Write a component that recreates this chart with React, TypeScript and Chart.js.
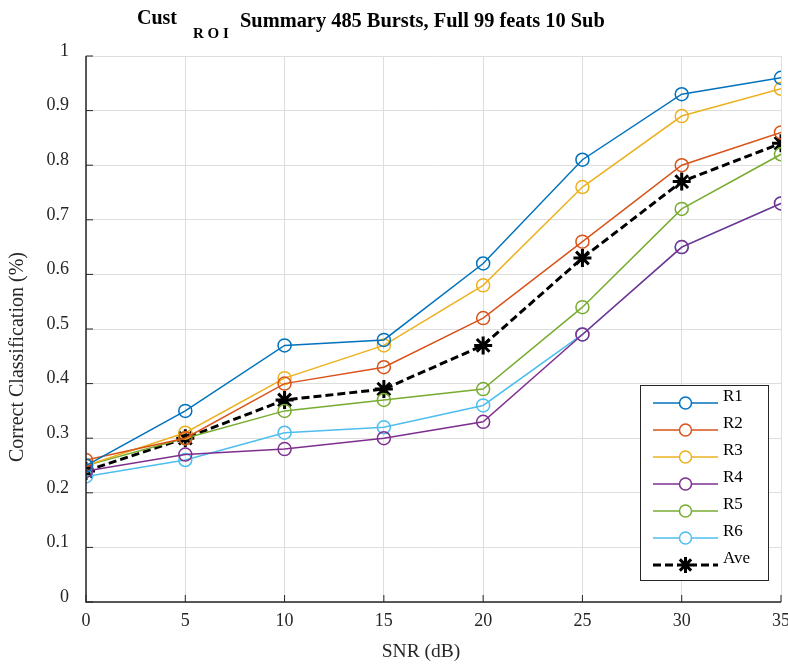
import React, { useEffect, useRef } from "react";
import { Chart, registerables } from "chart.js";

Chart.register(...registerables);

const snr = [0, 5, 10, 15, 20, 25, 30, 35];
const r1 = [0.25, 0.35, 0.47, 0.48, 0.62, 0.81, 0.93, 0.96];
const r2 = [0.26, 0.30, 0.40, 0.43, 0.52, 0.66, 0.80, 0.86];
const r3 = [0.25, 0.31, 0.41, 0.47, 0.58, 0.76, 0.89, 0.94];
const r4 = [0.24, 0.27, 0.28, 0.30, 0.33, 0.49, 0.65, 0.73];
const r5 = [0.25, 0.30, 0.35, 0.37, 0.39, 0.54, 0.72, 0.82];
const r6 = [0.23, 0.26, 0.31, 0.32, 0.36, 0.49, 0.65, 0.73];
const ave = [0.24, 0.30, 0.37, 0.39, 0.47, 0.63, 0.77, 0.84];
const seriesNames = ["R1", "R2", "R3", "R4", "R5", "R6", "Ave"];
const seriesColors = ["#0072BD", "#D95319", "#EDB120", "#7E2F8E", "#77AC30", "#4DBEEE", "#000000"];
const yTicks = [0, 0.1, 0.2, 0.3, 0.4, 0.5, 0.6, 0.7, 0.8, 0.9, 1];
const xLabel = "SNR (dB)";
const yLabel = "Correct Classification (%)";

const FONT = "'Liberation Serif', 'Times New Roman', serif";

const titlePlugin = {
  id: "matlabTitle",
  afterDraw(chart: any) {
    const ctx = chart.ctx;
    ctx.save();
    ctx.fillStyle = "#000";
    ctx.textBaseline = "alphabetic";
    ctx.textAlign = "left";
    ctx.font = `bold 20px ${FONT}`;
    ctx.fillText("Cust", 137, 24);
    ctx.font = `bold 15px ${FONT}`;
    ctx.fillText("R O I", 193, 38);
    ctx.font = `bold 20.4px ${FONT}`;
    ctx.fillText("Summary 485 Bursts, Full 99 feats 10 Sub", 240, 27);
    ctx.fillStyle = "#262626";
    ctx.font = `19.5px ${FONT}`;
    ctx.textAlign = "center";
    ctx.textBaseline = "middle";
    ctx.fillText(xLabel, 421, 652);
    ctx.save();
    ctx.translate(18, 357);
    ctx.rotate(-Math.PI / 2);
    ctx.font = `20px ${FONT}`;
    ctx.fillText(yLabel, 0, 0);
    ctx.restore();
    ctx.restore();
  },
};

const axesPlugin = {
  id: "matlabAxes",
  afterDatasetsDraw(chart: any) {
    const ctx = chart.ctx;
    const { left, right, top, bottom } = chart.chartArea;
    const xs = chart.scales.x;
    const ys = chart.scales.y;
    ctx.save();
    ctx.strokeStyle = "#262626";
    ctx.lineWidth = 1.5;
    ctx.beginPath();
    ctx.moveTo(left, top);
    ctx.lineTo(left, bottom);
    ctx.lineTo(right, bottom);
    ctx.stroke();
    ctx.lineWidth = 1;
    ctx.beginPath();
    snr.forEach((v) => {
      const px = xs.getPixelForValue(v);
      ctx.moveTo(px, bottom);
      ctx.lineTo(px, bottom - 7);
    });
    yTicks.forEach((v) => {
      const py = ys.getPixelForValue(v);
      ctx.moveTo(left, py);
      ctx.lineTo(left + 7, py);
    });
    ctx.stroke();
    ctx.restore();
  },
  afterDraw(chart: any) {
    const ctx = chart.ctx;
    const bx = 640, by = 385, bw = 128, bh = 195;
    ctx.save();
    ctx.fillStyle = "#fff";
    ctx.fillRect(bx, by, bw, bh);
    ctx.strokeStyle = "#262626";
    ctx.lineWidth = 1;
    ctx.strokeRect(bx + 0.5, by + 0.5, bw, bh);
    seriesNames.forEach((name, i) => {
      const y = 403 + i * 27;
      const color = seriesColors[i];
      ctx.strokeStyle = color;
      if (i === 6) {
        ctx.lineWidth = 3;
        ctx.setLineDash([8, 4]);
      } else {
        ctx.lineWidth = 1.5;
        ctx.setLineDash([]);
      }
      ctx.beginPath();
      ctx.moveTo(653, y);
      ctx.lineTo(718, y);
      ctx.stroke();
      ctx.setLineDash([]);
      if (i === 6) {
        ctx.fillStyle = "#fff";
        ctx.fillRect(678, y - 9, 15, 18);
        ctx.lineWidth = 3;
        ctx.beginPath();
        const r = 8;
        ctx.moveTo(685.5 - r, y); ctx.lineTo(685.5 + r, y);
        ctx.moveTo(685.5, y - r); ctx.lineTo(685.5, y + r);
        const d = r * 0.707;
        ctx.moveTo(685.5 - d, y - d); ctx.lineTo(685.5 + d, y + d);
        ctx.moveTo(685.5 - d, y + d); ctx.lineTo(685.5 + d, y - d);
        ctx.stroke();
      } else {
        ctx.fillStyle = "#fff";
        ctx.beginPath();
        ctx.arc(685.5, y, 6, 0, Math.PI * 2);
        ctx.fill();
        ctx.stroke();
      }
      ctx.fillStyle = "#000";
      ctx.font = `17px ${FONT}`;
      ctx.textAlign = "left";
      ctx.textBaseline = "middle";
      ctx.fillText(name, 723, y - 6);
    });
    ctx.restore();
  },
};

export default function App() {
  const ref = useRef<HTMLCanvasElement | null>(null);
  useEffect(() => {
    document.body.style.margin = "0";
    const all = [r1, r2, r3, r4, r5, r6];
    const datasets: any[] = all.map((arr, i) => ({
      label: seriesNames[i],
      data: snr.map((x, j) => ({ x, y: arr[j] })),
      borderColor: seriesColors[i],
      backgroundColor: "rgba(0,0,0,0)",
      borderWidth: 1.5,
      pointStyle: "circle",
      pointRadius: 6.5,
      pointBorderWidth: 1.5,
      pointBackgroundColor: "rgba(0,0,0,0)",
      pointBorderColor: seriesColors[i],
      tension: 0,
    }));
    datasets.push({
      label: "Ave",
      data: snr.map((x, j) => ({ x, y: ave[j] })),
      borderColor: "#000",
      backgroundColor: "#000",
      borderWidth: 3,
      borderDash: [8, 4],
      pointStyle: "star",
      pointRadius: 9,
      pointBorderWidth: 3,
      pointBorderColor: "#000",
      tension: 0,
    });
    const chart = new Chart(ref.current!, {
      type: "line",
      data: { datasets },
      options: {
        animation: false,
        responsive: false,
        maintainAspectRatio: false,
        layout: { autoPadding: false, padding: { left: 0, right: 7, top: 56, bottom: 0 } },
        plugins: { legend: { display: false }, title: { display: false }, tooltip: { enabled: false } },
        scales: {
          x: {
            type: "linear",
            min: 0,
            max: 35,
            afterFit: (s: any) => { s.height = 64; s.paddingLeft = 0; s.paddingRight = 0; },
            afterBuildTicks: (s: any) => { s.ticks = snr.map((v) => ({ value: v })); },
            grid: { color: "#dedede", lineWidth: 1, drawTicks: false },
            border: { display: false },
            ticks: { color: "#262626", font: { family: FONT, size: 18 }, padding: 8, maxRotation: 0 },
          },
          y: {
            type: "linear",
            min: 0,
            max: 1,
            afterFit: (s: any) => { s.width = 86; s.paddingTop = 0; s.paddingBottom = 0; },
            afterBuildTicks: (s: any) => { s.ticks = yTicks.map((v) => ({ value: v })); },
            grid: { color: "#dedede", lineWidth: 1, drawTicks: false },
            border: { display: false },
            ticks: { color: "#262626", font: { family: FONT, size: 18 }, padding: 17, labelOffset: -5, callback: (v: any) => String(Math.round(v * 10) / 10) },
          },
        },
      },
      plugins: [titlePlugin, axesPlugin],
    });
    return () => chart.destroy();
  }, []);
  return (
    <div style={{ position: "absolute", left: 0, top: 0, width: 788, height: 666, background: "#fff" }}>
      <canvas ref={ref} width={788} height={666} style={{ width: 788, height: 666 }} />
    </div>
  );
}
